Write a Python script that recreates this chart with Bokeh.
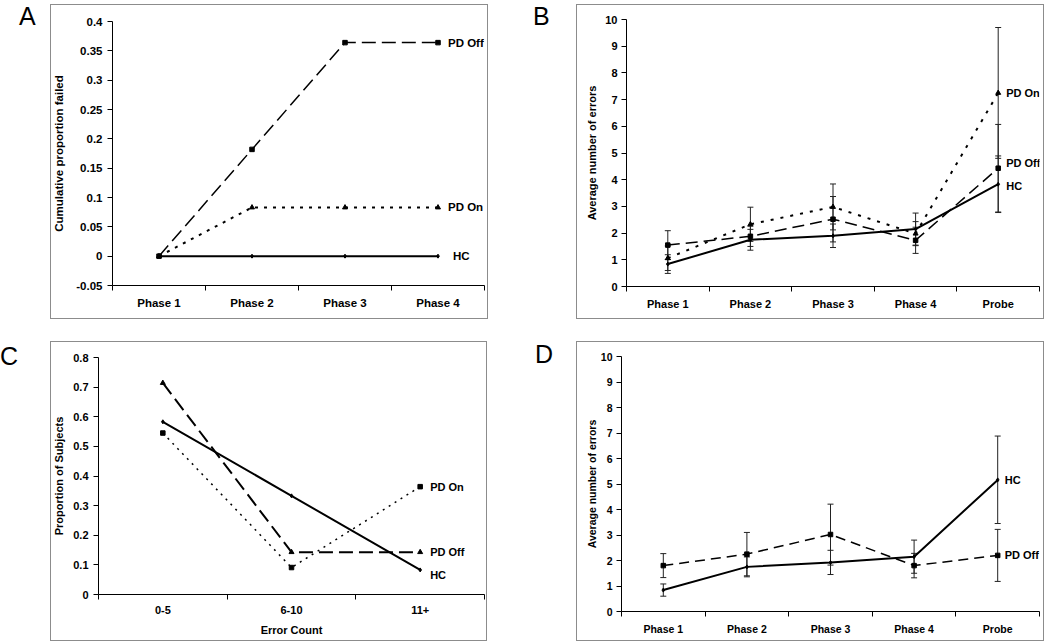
from bokeh.plotting import figure
from bokeh.layouts import row, column
from bokeh.models import (Div, FixedTicker, Range1d, Whisker, TeeHead,
                          ColumnDataSource, NumeralTickFormatter, Spacer, Column)
from bokeh.core.properties import value
from bokeh.embed import file_html
from bokeh.resources import INLINE

FONT = "Liberation Sans"

# ---------------- data ----------------
series_names = ["HC", "PD On", "PD Off"]

# Panel A: cumulative proportion failed
a_categories = ["Phase 1", "Phase 2", "Phase 3", "Phase 4"]
a_hc = [0.0, 0.0, 0.0, 0.0]
a_pd_on = [0.0, 0.083, 0.083, 0.083]
a_pd_off = [0.0, 0.182, 0.364, 0.364]
a_yticks = [-0.05, 0.0, 0.05, 0.1, 0.15, 0.2, 0.25, 0.3, 0.35, 0.4]

# Panel B: average number of errors (HC, PD On, PD Off)
b_categories = ["Phase 1", "Phase 2", "Phase 3", "Phase 4", "Probe"]
b_hc = [0.84, 1.75, 1.90, 2.15, 3.83]
b_hc_lo = [0.49, 1.36, 1.46, 1.55, 2.77]
b_hc_hi = [1.19, 2.14, 2.34, 2.75, 4.89]
b_pd_off = [1.55, 1.88, 2.52, 1.73, 4.43]
b_pd_off_lo = [1.01, 1.50, 1.67, 1.24, 2.79]
b_pd_off_hi = [2.09, 2.26, 3.37, 2.22, 6.07]
b_pd_on = [1.06, 2.33, 2.98, 1.98, 7.25]
b_pd_on_lo = [0.60, 1.69, 2.12, 1.53, 4.80]
b_pd_on_hi = [1.52, 2.97, 3.84, 2.43, 9.70]
b_yticks = [0, 1, 2, 3, 4, 5, 6, 7, 8, 9, 10]

# Panel C: proportion of subjects by error count
c_categories = ["0-5", "6-10", "11+"]
c_hc = [0.583, 0.333, 0.083]
c_pd_off = [0.714, 0.143, 0.143]
c_pd_on = [0.545, 0.091, 0.364]
c_yticks = [0, 0.1, 0.2, 0.3, 0.4, 0.5, 0.6, 0.7, 0.8]

# Panel D: average number of errors (HC, PD Off)
d_categories = ["Phase 1", "Phase 2", "Phase 3", "Phase 4", "Probe"]
d_hc = [0.84, 1.75, 1.92, 2.15, 5.16]
d_hc_lo = [0.60, 1.36, 1.45, 1.50, 3.45]
d_hc_hi = [1.08, 2.14, 2.40, 2.80, 6.88]
d_pd_off = [1.80, 2.25, 3.02, 1.80, 2.20]
d_pd_off_lo = [1.33, 1.40, 1.82, 1.32, 1.18]
d_pd_off_hi = [2.27, 3.10, 4.21, 2.28, 3.22]
d_yticks = [0, 1, 2, 3, 4, 5, 6, 7, 8, 9, 10]

BOX_GREY = "#8c8c8c"


# ---------------- helpers ----------------
def make_panel(cats, yr, yticks, yfmt, w, h, mb, ylabel, xlabel=None,
               fs="11px", ylab_standoff=8, ytick_standoff=5, xlab_standoff=6):
    n = len(cats)
    xs = list(range(1, n + 1))
    p = figure(width=w, height=h, x_range=Range1d(0.5, n + 0.5),
               y_range=Range1d(yr[0], yr[1]),
               output_backend="svg", toolbar_location=None,
               min_border_left=mb[0], min_border_right=mb[1],
               min_border_top=mb[2], min_border_bottom=mb[3])
    p.grid.visible = False
    p.outline_line_color = None
    p.background_fill_color = "white"
    p.border_fill_color = None
    xa = p.xaxis[0]
    xa.ticker = FixedTicker(ticks=xs, minor_ticks=[k + 0.5 for k in range(n + 1)])
    xa.major_label_overrides = {x: c for x, c in zip(xs, cats)}
    xa.major_tick_line_color = None
    xa.major_tick_out = 5
    xa.major_tick_in = 0
    xa.minor_tick_out = 5
    xa.minor_tick_in = 0
    xa.minor_tick_line_color = "black"
    xa.major_label_standoff = xlab_standoff
    ya = p.yaxis[0]
    ya.ticker = FixedTicker(ticks=yticks, minor_ticks=[])
    ya.formatter = NumeralTickFormatter(format=yfmt)
    ya.major_tick_out = 5
    ya.major_tick_in = 0
    ya.major_tick_line_color = "black"
    ya.minor_tick_line_color = None
    ya.major_label_standoff = ytick_standoff
    for ax in (xa, ya):
        ax.axis_line_color = "black"
        ax.axis_line_width = 1
        ax.major_label_text_font = FONT
        ax.major_label_text_font_style = "bold"
        ax.major_label_text_font_size = fs
        ax.major_label_text_color = "black"
        ax.axis_label_text_font = FONT
        ax.axis_label_text_font_style = "bold"
        ax.axis_label_text_font_size = fs
        ax.axis_label_text_color = "black"
    ya.axis_label = ylabel
    ya.axis_label_standoff = ylab_standoff
    if xlabel:
        xa.axis_label = xlabel
        xa.axis_label_standoff = 7
    # grey chart-area box (drawn by the page behind the transparent border area)
    p.styles = {"box-shadow": "inset 0 0 0 1px " + BOX_GREY,
                "background-color": "white"}
    p.margin = 0
    return p, xs


def draw_series(p, xs, ys, name, dash, lw, marker, msize, fs="11px",
                xoff=10, yoff=0, lo=None, hi=None):
    if lo is not None:
        src = ColumnDataSource(dict(x=xs, lower=lo, upper=hi))
        w = Whisker(source=src, base="x", lower="lower", upper="upper",
                    line_color="#222222", line_width=1,
                    upper_head=TeeHead(size=6, line_color="#222222", line_width=1),
                    lower_head=TeeHead(size=6, line_color="#222222", line_width=1))
        p.add_layout(w)
    p.line(xs, ys, line_color="black", line_width=lw, line_dash=dash)
    p.scatter(xs, ys, marker=marker, size=msize, color="black")
    p.text(x=[xs[-1]], y=[ys[-1]], text=[name], x_offset=xoff, y_offset=yoff,
           text_baseline="middle", text_align="left",
           text_font=value(FONT), text_font_style="bold",
           text_font_size=fs, text_color="black")


def letter(ch, w, h, left, top):
    html = ('<div style="position:relative; left:%dpx; top:%dpx; '
            'font-family:\'Liberation Sans\', Arial, sans-serif; font-size:25px; '
            'line-height:25px; color:#000;">%s</div>' % (left, top, ch))
    return Div(text=html, width=w, height=h, margin=0)


def wrap(p, w, h):
    # isolate each figure in its own container so that frames are not aligned
    return Column(children=[p], width=w, height=h, margin=0)


# ---------------- panel A ----------------
pA, xa_ = make_panel(a_categories, (-0.05, 0.4), a_yticks, "0.[00]", 438, 315,
                     (60, 4, 17, 34), "Cumulative proportion failed",
                     fs="11.5px", ylab_standoff=8)
draw_series(pA, xa_, a_pd_off, series_names[2], "14 6", 1.5, "square", 4.5,
            fs="11.5px", xoff=10)
draw_series(pA, xa_, a_pd_on, series_names[1], "3 6", 2, "triangle", 5,
            fs="11.5px", xoff=10)
draw_series(pA, xa_, a_hc, series_names[0], "solid", 2, "diamond", 4,
            fs="11.5px", xoff=15)

# ---------------- panel B ----------------
pB, xb_ = make_panel(b_categories, (0, 10), b_yticks, "0", 468, 315,
                     (50, 5, 15, 33), "Average number of errors",
                     fs="11px", ylab_standoff=4, ytick_standoff=4)
draw_series(pB, xb_, b_pd_off, series_names[2], "12 6", 1.5, "square", 4.5,
            fs="11px", xoff=8, yoff=-5, lo=b_pd_off_lo, hi=b_pd_off_hi)
draw_series(pB, xb_, b_pd_on, series_names[1], "3 7", 2, "triangle", 5,
            fs="11px", xoff=8, lo=b_pd_on_lo, hi=b_pd_on_hi)
draw_series(pB, xb_, b_hc, series_names[0], "solid", 2, "diamond", 4,
            fs="11px", xoff=8, yoff=2, lo=b_hc_lo, hi=b_hc_hi)

# ---------------- panel C ----------------
pC, xc_ = make_panel(c_categories, (0, 0.8), c_yticks, "0.[0]", 437, 300,
                     (46, 3, 16, 47), "Proportion of Subjects", xlabel="Error Count",
                     fs="11px", ylab_standoff=5)
draw_series(pC, xc_, c_pd_on, series_names[1], "2 5", 1.5, "square", 4.5,
            fs="11px", xoff=10)
draw_series(pC, xc_, c_pd_off, series_names[2], "14 6", 2, "triangle", 5,
            fs="11px", xoff=10)
draw_series(pC, xc_, c_hc, series_names[0], "solid", 2, "diamond", 4,
            fs="11px", xoff=10, yoff=5)

# ---------------- panel D ----------------
pD, xd_ = make_panel(d_categories, (0, 10), d_yticks, "0", 468, 300,
                     (45, 5, 15, 30), "Average number of errors",
                     fs="10.5px", ylab_standoff=0, ytick_standoff=4)
draw_series(pD, xd_, d_pd_off, series_names[2], "10 6", 1.5, "square", 4.5,
            fs="11px", xoff=7, lo=d_pd_off_lo, hi=d_pd_off_hi)
draw_series(pD, xd_, d_hc, series_names[0], "solid", 2, "diamond", 4,
            fs="11px", xoff=7, lo=d_hc_lo, hi=d_hc_hi)

# ---------------- layout ----------------
row1 = row(letter("A", 50, 315, 19, 0), wrap(pA, 438, 315),
           letter("B", 88, 315, 45, 0), wrap(pB, 468, 315))
row2 = row(letter("C", 50, 300, 0, 3), wrap(pC, 437, 300),
           letter("D", 89, 300, 48, 1), wrap(pD, 468, 300))
layout = column(Spacer(width=1044, height=4, margin=0), row1,
                Spacer(width=1044, height=22, margin=0), row2)

open("out.html", "w").write(file_html(layout, INLINE, title="Figure"))
